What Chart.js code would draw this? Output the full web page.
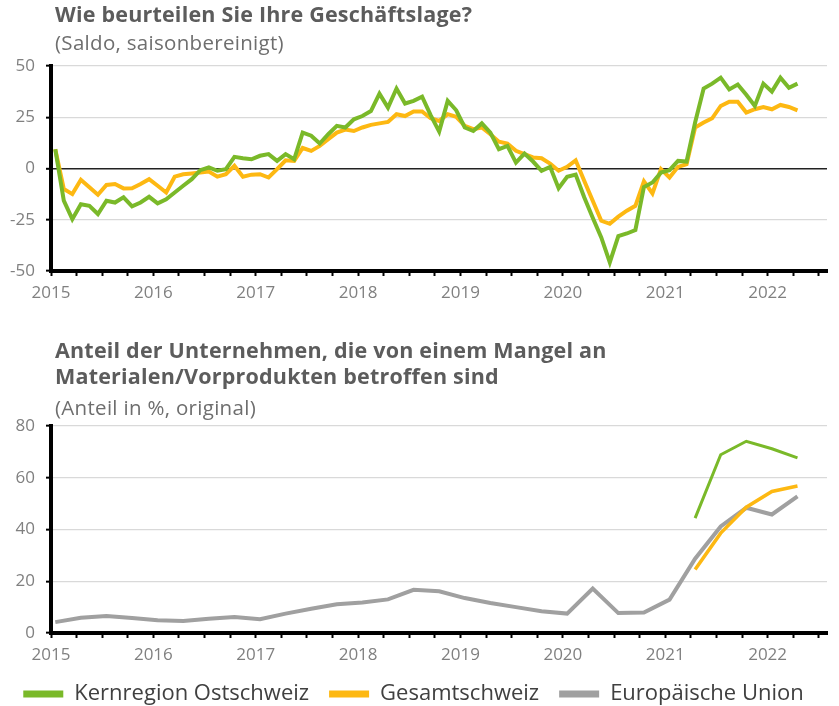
<!DOCTYPE html>
<html lang="de">
<head>
<meta charset="utf-8">
<script src="https://cdn.jsdelivr.net/npm/chart.js@4.4.1/dist/chart.umd.min.js"></script>
<style>
  html, body { margin: 0; padding: 0; background: #fff; overflow: hidden; }
  #wrap { position: relative; width: 839px; height: 706px; font-family: 'Open Sans', sans-serif; }
  canvas { position: absolute; left: 0; }
  .title { position: absolute; left: 55px; font-size: 21.5px; font-weight: 700; color: #5c5c5c; line-height: 26px; letter-spacing: 0.2px; white-space: nowrap; z-index: 2; }
  .sub { position: absolute; left: 55px; font-size: 20.5px; color: #6e6e6e; line-height: 28px; letter-spacing: 0.3px; white-space: nowrap; z-index: 2; }
</style>
</head>
<body>
<div id="wrap">
  <div class="title" style="top:1px">Wie beurteilen Sie Ihre Geschäftslage?</div>
  <div class="sub" style="top:28px">(Saldo, saisonbereinigt)</div>
  <div class="title" style="top:337px">Anteil der Unternehmen, die von einem Mangel an<br>Materialen/Vorprodukten betroffen sind</div>
  <div class="sub" style="top:393px">(Anteil in %, original)</div>
  <canvas id="lage" width="839" height="310" style="top:0"></canvas>
  <canvas id="mangel" width="839" height="405" style="top:310px"></canvas>
</div>
<script>
// Geschäftslage, monatlich ab Januar 2015 (Saldo)
const lageOst = [
  9.4, -15.7, -24.7, -17.4, -18.2, -22.2, -15.7, -16.6, -14.1, -18.5, -16.6, -13.8,
  -17, -15, -11.7, -8.4, -5.2, -0.8, 0.5, -1.1, -0.3, 5.7, 5, 4.5,
  6.2, 7, 3.7, 7, 4.5, 17.5, 16, 12.2, 16.7, 20.8, 20, 24,
  25.6, 28, 36.5, 29.7, 39, 31.7, 33, 35, 26, 18, 33, 28.4,
  20, 18.3, 22, 17.5, 9.4, 11, 2.9, 7.3, 3.4, -1.1, 0.8, -9.6,
  -4, -3, -14, -24, -33.6, -45.8, -33, -31.7, -30, -9, -6.8, -2,
  -0.8, 3.7, 3.4, 22.4, 39, 41.4, 44.3, 38.6, 41, 36, 30.5, 41.4,
  37.5, 44.3, 39.4, 41.4
];
const lageCH = [
  9.4, -10, -12.5, -5.5, -9.2, -12.8, -8, -7.6, -9.7, -9.6, -7.6, -5.2,
  -8.4, -11.7, -4, -2.8, -2.4, -2, -1.5, -4, -2.8, 1.3, -4, -3,
  -2.8, -4.4, -0.3, 4, 3.7, 10, 8.6, 11, 14.3, 17.5, 19, 18.3,
  20, 21.3, 22, 22.7, 26.5, 25.6, 27.8, 27.8, 24.5, 23.2, 26.5, 25.2,
  20.8, 19.2, 20, 16.7, 13.1, 12.2, 8.6, 7, 5.4, 5, 2.4, -1.1,
  0.8, 4, -6, -15.7, -25.5, -27, -23.5, -20.6, -18.2, -6.3, -12.2, -0.3,
  -4.4, 0.8, 2.1, 20, 22.4, 24.5, 30.5, 32.6, 32.6, 27.3, 28.9, 30,
  28.9, 31, 30, 28.4
];

// Materialmangel, quartalsweise ab Q1 2015 (Anteil in %)
const mangelEU = [
  4.2, 5.9, 6.6, 5.8, 4.9, 4.6, 5.5, 6.2, 5.3, 7.5, 9.4, 11.1,
  11.8, 13, 16.7, 16.1, 13.5, 11.6, 10, 8.4, 7.5, 17.2, 7.7, 7.9,
  12.9, 28.7, 41.2, 48.4, 45.8, 52.8
];
// ab Q2 2021
const mangelStart = 25;
const mangelOst = [44.4, 68.9, 74.1, 71.2, 67.7];
const mangelCH = [24.5, 38.6, 48.6, 54.7, 56.8];

const yearTicks = [2015, 2016, 2017, 2018, 2019, 2020, 2021, 2022];

const GREEN = '#7ab929';
const ORANGE = '#fdb812';
const GREY = '#a0a0a0';

const monthly = arr => arr.map((v, i) => ({ x: 2015 + (i + 0.5) / 12, y: v }));
const quarterly = (arr, start) => arr.map((v, i) => ({ x: 2015 + (3 * (start + i) + 0.5) / 12, y: v }));

const tickFont = { family: 'Open Sans', size: 17 };
const tickColor = '#808080';

function xAxis() {
  return {
    type: 'linear',
    min: 2015,
    max: 2022.58,
    afterFit: s => { s.height = 30; },
    border: { color: '#000', width: 4 },
    grid: { drawOnChartArea: false, drawTicks: true, tickLength: 5, tickColor: '#000', tickWidth: 2 },
    ticks: {
      stepSize: 0.25,
      includeBounds: false,
      autoSkip: false,
      maxRotation: 0,
      padding: 7,
      color: tickColor,
      font: tickFont,
      callback: v => yearTicks.includes(v) ? String(v) : '',
    },
  };
}

function yAxis(min, max, step, zeroBlack) {
  return {
    min, max,
    afterFit: s => { s.width = 51; },
    border: { color: '#000', width: 4 },
    grid: {
      color: c => (zeroBlack && c.tick && c.tick.value === 0) ? '#222' : '#d9d9d9',
      lineWidth: c => (zeroBlack && c.tick && c.tick.value === 0) ? 1.6 : 1.3,
      tickColor: '#000',
      tickLength: 5,
      tickWidth: 2,
    },
    ticks: { stepSize: step, padding: 11, color: tickColor, font: tickFont },
  };
}

const commonLine = { pointRadius: 0, tension: 0, fill: false, borderJoinStyle: 'miter' };

new Chart(document.getElementById('lage'), {
  type: 'line',
  data: {
    datasets: [
      { label: 'Kernregion Ostschweiz', data: monthly(lageOst), borderColor: GREEN, backgroundColor: GREEN, borderWidth: 4, ...commonLine },
      { label: 'Gesamtschweiz', data: monthly(lageCH), borderColor: ORANGE, backgroundColor: ORANGE, borderWidth: 4, ...commonLine },
    ],
  },
  options: {
    responsive: false,
    animation: false,
    layout: { padding: { top: 66, right: 12, bottom: 9, left: 0 } },
    plugins: { legend: { display: false }, tooltip: { enabled: false } },
    scales: { x: xAxis(), y: yAxis(-50, 50, 25, true) },
  },
});

new Chart(document.getElementById('mangel'), {
  type: 'line',
  data: {
    datasets: [
      { label: 'Kernregion Ostschweiz', data: quarterly(mangelOst, mangelStart), borderColor: GREEN, backgroundColor: GREEN, borderWidth: 3, ...commonLine },
      { label: 'Gesamtschweiz', data: quarterly(mangelCH, mangelStart), borderColor: ORANGE, backgroundColor: ORANGE, borderWidth: 3.5, ...commonLine },
      { label: 'Europäische Union', data: quarterly(mangelEU, 0), borderColor: GREY, backgroundColor: GREY, borderWidth: 4, ...commonLine },
    ],
  },
  options: {
    responsive: false,
    animation: false,
    layout: { padding: { top: 116, right: 12, bottom: 0, left: 0 } },
    plugins: {
      legend: {
        position: 'bottom',
        labels: {
          boxWidth: 40,
          boxHeight: 7,
          padding: 20,
          color: '#404040',
          font: { family: 'Open Sans', size: 22 },
          generateLabels: chart => Chart.defaults.plugins.legend.labels.generateLabels(chart)
            .map(l => ({ ...l, lineWidth: 0 })),
        },
      },
      tooltip: { enabled: false },
    },
    scales: { x: xAxis(), y: yAxis(0, 80, 20, false) },
  },
});
</script>
</body>
</html>
